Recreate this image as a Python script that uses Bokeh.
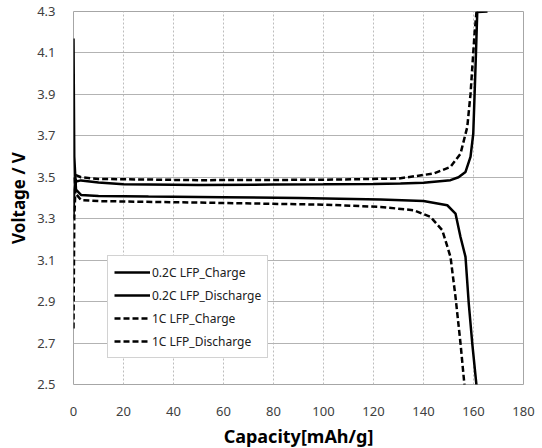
from bokeh.plotting import figure
from bokeh.models import FixedTicker, Legend, LegendItem, Range1d
from bokeh.embed import file_html
from bokeh.resources import INLINE

# ---- data ----
cap_02c_charge = [0, 0.3, 1, 3, 10, 20, 50, 80, 100, 120, 130.8, 140, 150.8, 154, 156.8, 158.8, 159.9, 160.8, 161.5, 165.6]
v_02c_charge = [3.30, 3.44, 3.48, 3.485, 3.475, 3.466, 3.463, 3.465, 3.466, 3.468, 3.47, 3.474, 3.486, 3.50, 3.526, 3.598, 3.71, 4.03, 4.297, 4.30]

cap_02c_dis = [0, 0.3, 1, 3, 10, 30, 60, 90, 122.8, 140, 149.5, 152.8, 154.8, 156.8, 158.1, 159.5, 161.2]
v_02c_dis = [4.17, 3.60, 3.44, 3.415, 3.41, 3.407, 3.404, 3.40, 3.393, 3.386, 3.365, 3.325, 3.212, 3.116, 2.891, 2.699, 2.495]

cap_1c_charge = [0, 0.3, 1, 3, 10, 50, 100, 130, 144, 150.8, 154.8, 157.5, 158.8, 160.4, 161.2]
v_1c_charge = [2.77, 3.30, 3.51, 3.50, 3.492, 3.486, 3.488, 3.494, 3.518, 3.55, 3.614, 3.742, 3.90, 4.19, 4.30]

cap_1c_dis = [0.3, 1, 3, 10, 50, 100, 122.8, 136.1, 142.8, 147.5, 150.8, 152.8, 154.8, 156.4]
v_1c_dis = [3.50, 3.42, 3.39, 3.385, 3.378, 3.368, 3.357, 3.341, 3.309, 3.245, 3.116, 2.923, 2.699, 2.495]

series_labels = ["0.2C LFP_Charge", "0.2C LFP_Discharge", "1C LFP_Charge", "1C LFP_Discharge"]
x_ticks = [0, 20, 40, 60, 80, 100, 120, 140, 160, 180]
y_ticks = [2.5, 2.7, 2.9, 3.1, 3.3, 3.5, 3.7, 3.9, 4.1, 4.3]

FONT = "Noto Sans"

p = figure(frame_width=450, frame_height=373, output_backend="svg", toolbar_location=None,
           x_range=Range1d(0, 180), y_range=Range1d(2.5, 4.3),
           min_border_left=73, min_border_right=19, min_border_top=11, min_border_bottom=64)

p.outline_line_color = "#a6a6a6"
p.outline_line_width = 1
p.background_fill_color = "white"
p.border_fill_color = "white"

# grids
p.xgrid.ticker = FixedTicker(ticks=x_ticks)
p.ygrid.ticker = FixedTicker(ticks=y_ticks)
p.xgrid.grid_line_color = "#bdbdbd"
p.xgrid.grid_line_dash = "2 2"
p.xgrid.grid_line_width = 1
p.ygrid.grid_line_color = "#b3b3b3"
p.ygrid.grid_line_width = 1

# axes
for ax in (p.xaxis[0], p.yaxis[0]):
    ax.axis_line_color = None
    ax.major_tick_line_color = None
    ax.minor_tick_line_color = None
    ax.major_label_text_font = FONT
    ax.major_label_text_font_size = "13px"
    ax.major_label_text_color = "#404040"
    ax.axis_label_text_font = FONT
    ax.axis_label_text_font_style = "bold"
    ax.axis_label_text_color = "#000000"

p.xaxis.ticker = FixedTicker(ticks=x_ticks)
p.yaxis.ticker = FixedTicker(ticks=y_ticks)
p.xaxis.axis_label = "Capacity[mAh/g]"
p.yaxis.axis_label = "Voltage / V"
p.xaxis.axis_label_text_font_size = "18px"
p.yaxis.axis_label_text_font_size = "17px"
p.xaxis.major_label_standoff = 16
p.yaxis.major_label_standoff = 12
p.xaxis.axis_label_standoff = 5
p.yaxis.axis_label_standoff = 4

r1 = p.line(cap_02c_charge, v_02c_charge, line_color="black", line_width=2.5)
r2 = p.line(cap_02c_dis, v_02c_dis, line_color="black", line_width=2.5)
r3 = p.line(cap_1c_charge, v_1c_charge, line_color="black", line_width=2.5, line_dash="6 3")
r4 = p.line(cap_1c_dis, v_1c_dis, line_color="black", line_width=2.5, line_dash="6 3")

legend = Legend(items=[LegendItem(label=lab, renderers=[r]) for lab, r in zip(series_labels, [r1, r2, r3, r4])],
                location=(34, 26))
legend.border_line_color = "#a6a6a6"
legend.border_line_width = 1
legend.background_fill_alpha = 1
legend.label_text_font = FONT
legend.label_text_font_size = "12px"
legend.label_text_color = "#202020"
legend.glyph_width = 36
legend.glyph_height = 20
legend.label_height = 20
legend.label_standoff = 2
legend.spacing = 3
legend.padding = 6
legend.margin = 0
p.add_layout(legend)

open("out.html", "w").write(file_html(p, INLINE))
